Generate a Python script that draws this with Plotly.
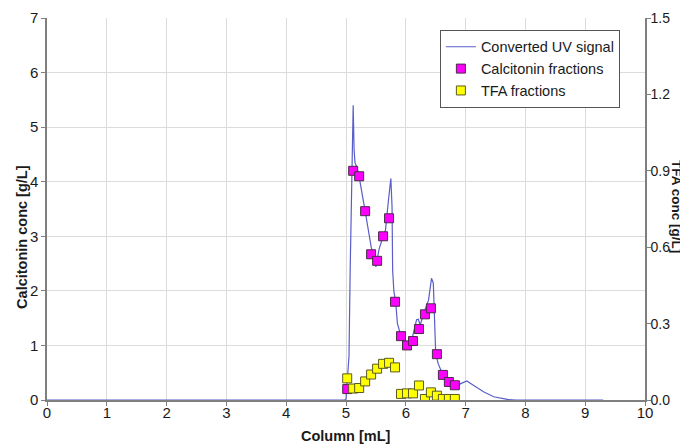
import plotly.graph_objects as go

# Converted UV signal (left axis)
uv_x = [0, 4.98, 5.0, 5.03, 5.05, 5.07, 5.085, 5.095, 5.12, 5.135, 5.15, 5.18, 5.22, 5.32, 5.42,
        5.50, 5.55, 5.62, 5.66, 5.71, 5.75, 5.77, 5.78, 5.80, 5.83, 5.86, 5.92, 6.02, 6.10,
        6.18, 6.21, 6.24, 6.30, 6.38, 6.43, 6.46, 6.48, 6.50, 6.54, 6.62, 6.72, 6.83, 6.92,
        7.02, 7.13, 7.30, 7.47, 7.58, 7.70, 7.85, 9.3]
uv_y = [0, 0, 0.02, 0.4, 0.8, 2.4, 3.5, 4.46, 5.4, 4.6, 4.35, 4.27, 4.09, 3.46, 2.81,
        2.44, 2.75, 3.0, 3.11, 3.66, 4.06, 3.54, 2.38, 2.0, 1.8, 1.4, 1.17, 1.0, 1.1,
        1.47, 1.48, 1.37, 1.59, 1.83, 2.23, 2.14, 1.34, 0.86, 0.67, 0.46, 0.31, 0.24, 0.3,
        0.35, 0.27, 0.15, 0.06, 0.03, 0.01, 0, 0]

# Calcitonin fractions (left axis)
calc_x = [5.02, 5.12, 5.22, 5.32, 5.42, 5.52, 5.62, 5.72, 5.82, 5.92,
          6.02, 6.12, 6.22, 6.32, 6.42, 6.52, 6.62, 6.72, 6.82]
calc_y = [0.2, 4.2, 4.1, 3.46, 2.67, 2.55, 3.0, 3.33, 1.8, 1.17,
          1.0, 1.08, 1.3, 1.57, 1.68, 0.84, 0.46, 0.33, 0.27]

# TFA fractions (right axis)
tfa_x = [5.02, 5.12, 5.22, 5.32, 5.42, 5.52, 5.62, 5.72, 5.82, 5.92,
         6.02, 6.12, 6.22, 6.32, 6.42, 6.52, 6.62, 6.72, 6.82]
tfa_y = [0.085, 0.045, 0.047, 0.073, 0.1, 0.123, 0.142, 0.146, 0.128, 0.024,
         0.026, 0.026, 0.057, 0.004, 0.03, 0.017, 0.004, 0.004, 0.004]

x_ticks = list(range(0, 11))
left_ticks = list(range(0, 8))
right_ticks = [0.0, 0.3, 0.6, 0.9, 1.2, 1.5]

font_family = "Liberation Sans, Arial, sans-serif"
axis_col = "#7f7f7f"
grid_col = "#dcdcdc"
txt_col = "#1a1a1a"

fig = go.Figure()
fig.add_trace(go.Scatter(x=uv_x, y=uv_y, mode="lines", name="Converted UV signal",
                         line=dict(color="#5a5ec8", width=1.2)))
fig.add_trace(go.Scatter(x=calc_x, y=calc_y, mode="markers", name="Calcitonin fractions",
                         marker=dict(symbol="square", size=9, color="#ff00ff",
                                     line=dict(color="#4a2a4a", width=1))))
fig.add_trace(go.Scatter(x=tfa_x, y=tfa_y, mode="markers", name="TFA fractions", yaxis="y2",
                         marker=dict(symbol="square", size=9, color="#ffff00",
                                     line=dict(color="#5a5a20", width=1))))

fig.update_layout(
    width=680, height=436,
    margin=dict(l=39, r=43, t=10, b=44, autoexpand=False),
    paper_bgcolor="white", plot_bgcolor="white",
    font=dict(family=font_family, size=15, color=txt_col),
    showlegend=True,
    legend=dict(x=0.657, y=0.969, xanchor="left", yanchor="top",
                bgcolor="white", bordercolor="#555555", borderwidth=1,
                font=dict(size=14.5), tracegroupgap=0, itemwidth=30),
    xaxis=dict(range=[0, 10], tickvals=x_ticks, ticks="outside", ticklen=4,
               tickcolor=axis_col, showline=True, linecolor=axis_col, linewidth=1.5,
               showgrid=True, gridcolor=grid_col, gridwidth=1, zeroline=False,
               ticklabelstandoff=-6, automargin=False),
    yaxis=dict(range=[0, 7], tickvals=left_ticks, ticks="outside", ticklen=4,
               tickcolor=axis_col, showline=True, linecolor=axis_col, linewidth=1.5,
               showgrid=True, gridcolor=grid_col, gridwidth=1, zeroline=False,
               automargin=False),
    yaxis2=dict(range=[0, 1.5], tickvals=right_ticks, tickformat=".1f", overlaying="y",
                side="right", ticks="outside", ticklen=4, tickcolor=axis_col,
                showline=True, linecolor=axis_col, linewidth=1.5, showgrid=False,
                zeroline=False, automargin=False, tickfont=dict(size=14),
                ticklabelstandoff=-3),
)

title_font = dict(size=14.5, family=font_family, color=txt_col)
fig.add_annotation(text="<b>Column [mL]</b>", xref="paper", yref="paper",
                   x=0.5, y=0, yshift=-36, xanchor="center", yanchor="middle",
                   showarrow=False, font=title_font)
fig.add_annotation(text="<b>Calcitonin conc [g/L]</b>", xref="paper", yref="paper",
                   x=0, xshift=-25, y=0.427, xanchor="center", yanchor="middle",
                   textangle=-90, showarrow=False, font=title_font)
fig.add_annotation(text="<b>TFA conc [g/L]</b>", xref="paper", yref="paper",
                   x=1.0, xshift=31, y=0.508, xanchor="center", yanchor="middle",
                   textangle=90, showarrow=False,
                   font=dict(size=13.5, family=font_family, color=txt_col))

fig.write_html("out.html")
